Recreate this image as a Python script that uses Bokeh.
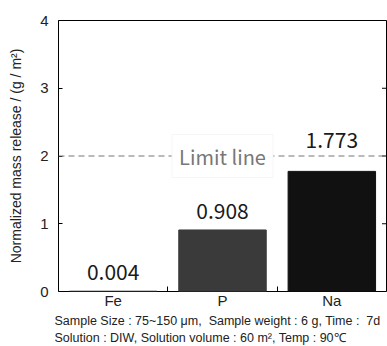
from bokeh.plotting import figure
from bokeh.models import (ColumnDataSource, FixedTicker, Span, Label,
                          Range1d, Title)
from bokeh.embed import file_html
from bokeh.resources import INLINE
from bokeh.core.properties import value

categories = ["Fe", "P", "Na"]
releases = [0.004, 0.908, 1.773]
bar_colors = ["#2b2b2b", "#3a3a3a", "#111111"]
y_ticks = [0, 1, 2, 3, 4]
limit_value = 2.0
limit_text = "Limit line"
note_line1 = "Sample Size : 75~150 \u03bcm, \u00a0Sample weight : 6 g, Time : \u00a07d"
note_line2 = "Solution : DIW, Solution volume : 60 m\u00b2, Temp : 90\u2103"

xs = [i + 0.5 for i in range(len(categories))]
labels = [f"{v:.3f}" for v in releases]
# value labels: placed above the bar, but moved above the limit line when near it
near = [abs(v - limit_value) < 0.35 for v in releases]
label_anchor = [limit_value if n else v for v, n in zip(releases, near)]
label_off = [-8 if n else -11 for n in near]

src = ColumnDataSource(dict(x=xs, top=releases, color=bar_colors,
                            lab=labels, ly=label_anchor, loff=label_off))

x_end = float(len(categories))
p = figure(width=387, height=346, output_backend="svg", toolbar_location=None,
           x_range=Range1d(0, x_end), y_range=Range1d(y_ticks[0], y_ticks[-1]),
           min_border_left=58, min_border_right=1, min_border_top=20,
           min_border_bottom=55)
p.xgrid.visible = False
p.ygrid.visible = False
p.outline_line_color = "black"
p.outline_line_width = 1
p.background_fill_color = "white"
p.border_fill_color = "white"

p.vbar(x="x", top="top", width=0.8, bottom=0, color="color", source=src)

# inward ticks on the right frame edge (clipped to the frame, so only the inner half shows)
p.scatter(x=[x_end] * len(y_ticks), y=y_ticks, marker="dash", size=9,
          line_color="black", line_width=1)

p.add_layout(Span(location=limit_value, dimension="width", line_color="#777777",
                  line_dash="6 4", line_width=1))
p.add_layout(Label(x=1.5, y=limit_value, text=limit_text, text_align="center",
                   text_baseline="middle", text_color="#777777",
                   text_font="Noto Sans CJK JP", text_font_size="20px",
                   padding=7,
                   background_fill_color="white", background_fill_alpha=1.0,
                   border_line_color="#f6f6f6", border_line_width=1))

p.text(x="x", y="ly", text="lab", y_offset="loff", source=src,
       text_align="center", text_baseline="bottom", text_color="#1a1a1a",
       text_font=value("Noto Sans CJK JP"), text_font_size="21px")

# y axis
ya = p.yaxis[0]
ya.ticker = FixedTicker(ticks=y_ticks)
ya.major_tick_in = 4
ya.major_tick_out = 0
ya.minor_tick_line_color = None
ya.axis_line_color = None
ya.major_label_text_font = "Liberation Sans"
ya.major_label_text_font_size = "15px"
ya.major_label_text_color = "#222222"
ya.major_label_standoff = 10
ya.axis_label = "Normalized mass release / (g / m\u00b2)"
ya.axis_label_text_font = "Liberation Sans"
ya.axis_label_text_font_style = "normal"
ya.axis_label_text_font_size = "14px"
ya.axis_label_text_color = "#222222"
ya.axis_label_standoff = 13

# x axis
xa = p.xaxis[0]
xa.ticker = FixedTicker(ticks=xs, minor_ticks=[1, 2])
xa.major_label_overrides = {x: c for x, c in zip(xs, categories)}
xa.major_tick_in = 0
xa.major_tick_out = 0
xa.minor_tick_in = 5
xa.minor_tick_out = 0
xa.minor_tick_line_color = "black"
xa.axis_line_color = None
xa.major_label_text_font = "Liberation Sans"
xa.major_label_text_font_size = "15px"
xa.major_label_text_color = "#222222"
xa.major_label_standoff = 0

t1 = Title(text=note_line1, align="left", text_font="Liberation Sans",
           text_font_size="12.5px", text_font_style="normal", text_color="#222222",
           offset=-4, standoff=0)
t2 = Title(text=note_line2, align="left", text_font="Liberation Sans",
           text_font_size="12.5px", text_font_style="normal", text_color="#222222",
           offset=-4, standoff=2)
p.add_layout(t1, "below")
p.add_layout(t2, "below")

open("out.html", "w").write(file_html(p, INLINE))
